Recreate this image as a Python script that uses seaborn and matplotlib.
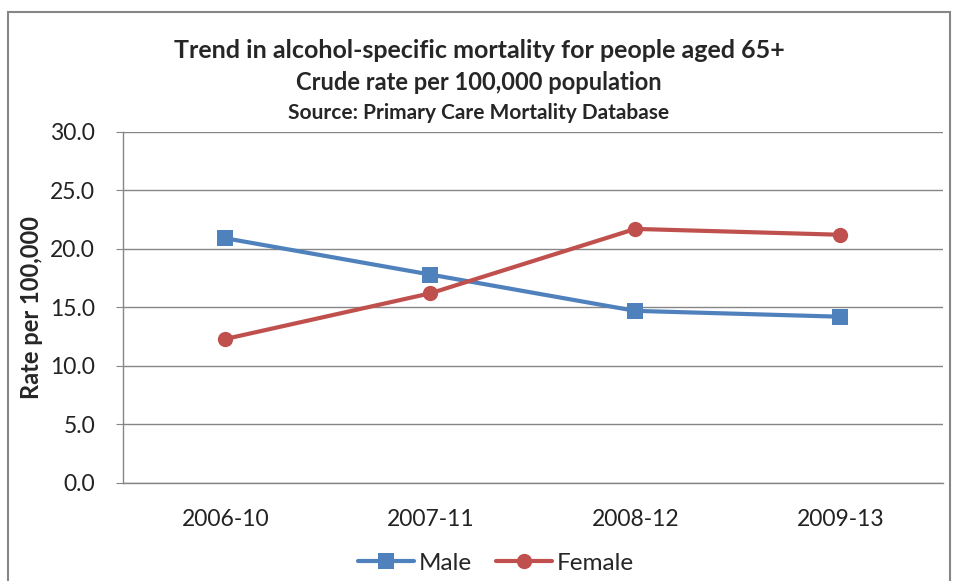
import pandas as pd
import seaborn as sns
import matplotlib.pyplot as plt
from matplotlib.patches import Rectangle

periods = ['2006-10', '2007-11', '2008-12', '2009-13']
male = [20.9, 17.8, 14.7, 14.2]
female = [12.3, 16.2, 21.7, 21.2]

df = pd.DataFrame({
    'Period': periods * 2,
    'Rate': male + female,
    'Sex': ['Male'] * 4 + ['Female'] * 4,
})

sns.set_style('white')
plt.rcParams['font.family'] = ['Lato', 'DejaVu Sans']

fig = plt.figure(figsize=(9.58, 5.81), dpi=100)
ax = fig.add_axes([0.1284, 0.1687, 0.8556, 0.6046])

# outer chart border
fig.patches.append(Rectangle((0.008, -0.05), 0.984, 1.03, transform=fig.transFigure,
                             fill=False, edgecolor='#868686', linewidth=1.5))

sns.lineplot(data=df, x='Period', y='Rate', hue='Sex', style='Sex',
             markers={'Male': 's', 'Female': 'o'}, dashes=False,
             palette={'Male': '#4F81BD', 'Female': '#C0504D'},
             linewidth=3, markersize=11, markeredgewidth=0, ax=ax)

ax.set_ylim(0, 30)
ax.set_xlim(-0.5, 3.5)
ax.set_yticks(range(0, 31, 5))
ax.set_yticklabels([f'{v:.1f}' for v in range(0, 31, 5)])
ax.yaxis.grid(True, color='#868686', linewidth=1)
ax.set_axisbelow(True)
for s in ['top', 'right']:
    ax.spines[s].set_visible(False)
for s in ['left', 'bottom']:
    ax.spines[s].set_color('#868686')
    ax.spines[s].set_linewidth(1)
ax.tick_params(axis='y', labelsize=16.5, colors='#222222', left=True, length=5, color='#868686', pad=15)
ax.tick_params(axis='x', labelsize=16.5, colors='#222222', bottom=False, pad=15)
ax.set_xlabel('')
ax.set_ylabel('Rate per 100,000', fontsize=17, fontweight='bold')
ax.yaxis.set_label_coords(-0.097, 0.5)

fig.text(0.5, 1 - 50 / 581, 'Trend in alcohol-specific mortality for people aged 65+',
         ha='center', va='center', fontsize=18, fontweight='bold')
fig.text(0.5, 1 - 82 / 581, 'Crude rate per 100,000 population',
         ha='center', va='center', fontsize=17, fontweight='bold')
fig.text(0.5, 1 - 113 / 581, 'Source: Primary Care Mortality Database',
         ha='center', va='center', fontsize=15, fontweight='bold')

handles, labels = ax.get_legend_handles_labels()
ax.legend(handles, labels, loc='center', bbox_to_anchor=(0.455, -0.228),
          ncol=2, frameon=False, fontsize=17.5, handlelength=2.3,
          columnspacing=1.0, handletextpad=0.2)

fig.savefig('out.png', dpi=100)
